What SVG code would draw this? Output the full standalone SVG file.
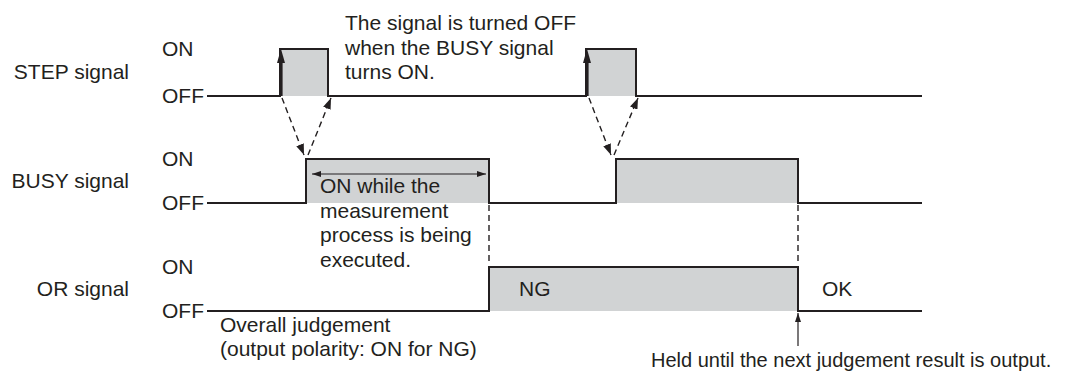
<svg xmlns="http://www.w3.org/2000/svg" width="1077" height="374" viewBox="0 0 1077 374">
<style>
text{font-family:"Liberation Sans",Arial,sans-serif;font-size:21px;fill:#231f20}
.name{text-anchor:end}
.sig{fill:none;stroke:#231f20;stroke-width:2;stroke-linejoin:miter}
.fill{fill:#d1d3d4;stroke:none}
.dash{fill:none;stroke:#231f20;stroke-width:1.4;stroke-dasharray:6 4}
.thin{fill:none;stroke:#231f20;stroke-width:1.2}
</style>
<defs>
<marker id="ah" markerUnits="userSpaceOnUse" markerWidth="11" markerHeight="8" refX="11" refY="4" orient="auto">
<path d="M0,0 L11,4 L0,8 z" fill="#231f20"/>
</marker>
<marker id="sh" markerUnits="userSpaceOnUse" markerWidth="9" markerHeight="6" refX="9" refY="3" orient="auto-start-reverse">
<path d="M0,0 L9,3 L0,6 z" fill="#231f20"/>
</marker>
</defs>
<rect width="1077" height="374" fill="#fff"/>

<g id="step">
<text class="name" x="129" y="79">STEP signal</text>
<text x="162" y="56">ON</text>
<text x="162" y="103">OFF</text>
<rect class="fill" x="280" y="49" width="48" height="47"/>
<rect class="fill" x="586" y="49" width="50" height="47"/>
<path class="sig" d="M207,96 H280 V49 H328 V96 H586 V49 H636 V96 H922"/>
<line x1="281" y1="96" x2="281" y2="60" stroke="#231f20" stroke-width="3.2"/>
<path d="M281,49 L277,63 L285,63 z" fill="#231f20"/>
<line x1="587" y1="96" x2="587" y2="60" stroke="#231f20" stroke-width="3.2"/>
<path d="M587,49 L583,63 L591,63 z" fill="#231f20"/>
</g>

<g id="step-note">
<text x="345" y="30">The signal is turned OFF</text>
<text x="345" y="54.5">when the BUSY signal</text>
<text x="345" y="79">turns ON.</text>
</g>

<g id="busy">
<text class="name" x="129" y="188">BUSY signal</text>
<text x="162" y="166">ON</text>
<text x="162" y="210">OFF</text>
<rect class="fill" x="306" y="159" width="183" height="44"/>
<rect class="fill" x="616" y="159" width="182" height="44"/>
<path class="sig" d="M207,203 H306 V159 H489 V203 H616 V159 H798 V203 H922"/>
<line class="thin" x1="312" y1="174" x2="486" y2="174" marker-start="url(#sh)" marker-end="url(#sh)"/>
<text x="320" y="193">ON while the</text>
<text x="320" y="217.5">measurement</text>
<text x="320" y="242">process is being</text>
<text x="320" y="266.5">executed.</text>
</g>

<g id="or">
<text class="name" x="129" y="296">OR signal</text>
<text x="162" y="274">ON</text>
<text x="162" y="318">OFF</text>
<rect class="fill" x="489" y="267" width="309" height="44"/>
<path class="sig" d="M207,311 H489 V267 H798 V311 H922"/>
<text x="519" y="296">NG</text>
<text x="822" y="296">OK</text>
<text x="220" y="332">Overall judgement</text>
<text x="220" y="356">(output polarity: ON for NG)</text>
</g>

<g id="held-note">
<text x="651" y="367" style="font-size:20px">Held until the next judgement result is output.</text>
</g>

<g id="connectors">
<line class="dash" x1="282" y1="98" x2="304" y2="155" marker-end="url(#ah)"/>
<line class="dash" x1="308" y1="155" x2="331" y2="98" marker-end="url(#ah)"/>
<line class="dash" x1="589" y1="98" x2="611" y2="155" marker-end="url(#ah)"/>
<line class="dash" x1="614" y1="155" x2="638" y2="98" marker-end="url(#ah)"/>
<line class="dash" x1="489" y1="205" x2="489" y2="265"/>
<line class="dash" x1="798" y1="205" x2="798" y2="265"/>
<line class="thin" x1="798" y1="346" x2="798" y2="313" marker-end="url(#sh)"/>
</g>
</svg>
